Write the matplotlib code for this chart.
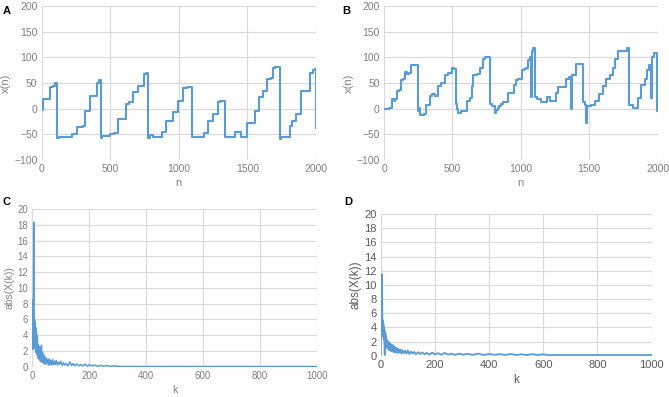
import matplotlib
matplotlib.use("Agg")
import matplotlib.pyplot as plt
import numpy as np

plt.rcParams["font.family"] = ["Liberation Sans", "DejaVu Sans"]

# Panel A: step levels x(n) starting at sample n
n_A = [0, 12, 58, 80, 100, 115, 125, 218, 255, 300, 315, 352, 400, 415, 430, 440,
       500, 530, 558, 614, 640, 667, 704, 745, 760, 777, 790, 810, 874, 910, 958,
       995, 1034, 1060, 1095, 1182, 1214, 1250, 1286, 1300, 1337, 1408, 1456, 1498,
       1553, 1583, 1614, 1643, 1670, 1687, 1700, 1736, 1745, 1808, 1825, 1857, 1893,
       1959, 1975, 1990, 2000]
x_A = [-2, 18, 42, 45, 50, -57, -55, -50, -35, -33, -5, 25, 50, 55, -57, -53,
       -50, -47, -20, 10, 12, 33, 45, 68, 70, -57, -52, -55, -45, -25, -7,
       15, 40, 42, -55, -47, -25, -10, 12, 14, -55, -45, -55, -27,
       -5, 22, 35, 57, 60, 80, 82, -60, -55, -33, -25, -10, 35,
       70, 75, 77, -37]

# Panel B
n_B = [0, 40, 57, 70, 80, 93, 110, 124, 140, 153, 170, 185, 197, 246, 255, 262,
       290, 304, 320, 336, 350, 372, 397, 420, 445, 470, 494, 510, 523, 532, 540,
       565, 604, 625, 640, 652, 680, 701, 725, 740, 774, 790, 810, 820, 830, 840,
       855, 870, 908, 950, 968, 981, 1006, 1020, 1035, 1050, 1065, 1078, 1083, 1091,
       1105, 1115, 1150, 1195, 1210, 1255, 1275, 1330, 1350, 1370, 1375, 1407, 1456,
       1470, 1480, 1485, 1510, 1545, 1570, 1600, 1625, 1650, 1672, 1690, 1712, 1773,
       1792, 1820, 1855, 1880, 1905, 1920, 1940, 1955, 1960, 1975, 1998, 2000]
x_B = [0, 2, 18, 15, 18, 35, 37, 55, 57, 72, 68, 70, 85, -5, 2, -12,
       -10, 7, 8, 25, 28, 25, 45, 50, 65, 70, 80, 78, 10, 0, -8,
       -5, 15, 20, 45, 65, 68, 80, 97, 100, 10, 5, -8, -3, 2, 6,
       10, 13, 30, 47, 55, 57, 75, 78, 80, 95, 100, 22, 112, 118,
       22, 18, 13, 22, 15, 30, 43, 58, 62, 0, 65, 87, 12,
       8, -27, 5, 8, 15, 28, 45, 58, 65, 80, 97, 112, 118,
       8, 2, 20, 47, 57, 75, 85, 20, 100, 108, -5, -5]

# Panel C: abs(X(k))
k_C = list(range(0, 21)) + list(range(22, 51, 2)) + [53, 56, 59, 62, 65, 68, 71, 74, 77, 80,
       84, 88, 92, 96, 100, 105, 110, 115, 120, 126, 132, 138, 144, 150, 157, 164, 171, 178,
       185, 193, 201, 210, 220, 230, 240, 250, 262, 275, 290, 310, 340, 400, 500, 600, 700,
       800, 900, 1000]
X_C = [8.5, 3.0, 6.5, 2.2, 8.0, 18.3, 4.5, 2.5, 6.0, 3.0, 5.5, 2.2, 5.0, 1.8, 4.6, 2.0, 4.0,
       1.5, 3.5, 1.2, 2.8,
       1.0, 2.6, 0.8, 2.4, 0.6, 2.7, 0.9, 1.8, 0.5, 1.5, 0.4, 1.2, 0.3, 1.1, 0.5,
       0.9, 0.2, 1.0, 0.3, 0.8, 0.2, 0.9, 0.3, 0.7, 0.25,
       0.8, 0.2, 0.6, 0.3, 0.7, 0.15, 0.5, 0.2, 0.4, 0.1, 0.6, 0.15, 0.4, 0.1,
       0.35, 0.1, 0.3, 0.08, 0.35, 0.06, 0.25, 0.1, 0.2, 0.05, 0.18, 0.06,
       0.15, 0.05, 0.1, 0.04, 0.03, 0.03, 0.03, 0.03, 0.03, 0.03, 0.03, 0.03]

# Panel D
k_D = list(range(0, 21)) + [22, 24, 26, 28, 30] + list(range(33, 61, 3)) + [64, 68, 72, 76,
       80, 85, 90, 95, 100, 106, 112, 118, 124, 130, 138, 146, 154, 162, 170, 180, 190, 200,
       212, 224, 236, 248, 260, 275, 290, 305, 320] + list(range(340, 601, 20)) + [615, 700,
       800, 900, 1000]
X_D = [0.0, 4.0, 3.2, 4.5, 3.0, 11.5, 6.0, 3.5, 5.0, 2.8, 4.5, 2.5, 4.0, 2.2, 3.6, 0.1, 3.2,
       2.0, 3.0, 1.6, 2.6,
       1.2, 2.2, 1.0, 2.0, 0.8,
       1.8, 0.7, 1.6, 0.6, 1.5, 0.5, 1.3, 0.5, 1.1, 0.4,
       1.0, 0.4, 0.9, 0.3, 0.8, 0.35, 0.7, 0.3, 0.75, 0.25, 0.6, 0.3, 0.55, 0.2,
       0.5, 0.25, 0.45, 0.2, 0.4, 0.15, 0.45, 0.2, 0.35, 0.15, 0.4, 0.15, 0.3,
       0.12, 0.3, 0.15, 0.28,
       0.12, 0.3, 0.1, 0.25, 0.12, 0.22, 0.1, 0.25, 0.1, 0.2, 0.1, 0.22, 0.1, 0.2,
       0.1, 0.1, 0.1, 0.1, 0.1]

blue = "#5B9BD5"
grid = "#D9D9D9"

fig = plt.figure(figsize=(6.69, 3.97), dpi=100)


def style(ax, xlim, xticks, ylim, yticks, xlabel, ylabel, fs=7.5, tc="#808080"):
    ax.set_xlim(xlim)
    ax.set_ylim(ylim)
    ax.set_xticks(xticks)
    ax.set_yticks(yticks)
    for s in ax.spines.values():
        s.set_visible(False)
    ax.grid(True, color=grid, lw=0.8)
    ax.set_axisbelow(True)
    ax.tick_params(length=0, labelsize=fs, colors=tc, pad=3)
    ax.set_xlabel(xlabel, fontsize=fs + 0.5, color=tc, labelpad=3)
    ax.set_ylabel(ylabel, fontsize=fs + 0.5, color=tc, labelpad=2)


axA = fig.add_axes([0.0623, 0.597, 0.410, 0.388])
axA.plot(n_A, x_A, drawstyle="steps-post", color=blue, lw=1.5)
style(axA, (0, 2000), np.arange(0, 2001, 500), (-100, 200), np.arange(-100, 201, 50), "n", "x(n)")

axB = fig.add_axes([0.574, 0.597, 0.409, 0.388])
axB.plot(n_B, x_B, drawstyle="steps-post", color=blue, lw=1.5)
style(axB, (0, 2000), np.arange(0, 2001, 500), (-100, 200), np.arange(-100, 201, 50), "n", "x(n)")

axC = fig.add_axes([0.0483, 0.0763, 0.4251, 0.3973])
axC.plot(k_C, X_C, color=blue, lw=1.1)
style(axC, (0, 1000), np.arange(0, 1001, 200), (0, 20), np.arange(0, 21, 2), "k", "abs(X(k))", fs=7)

axD = fig.add_axes([0.569, 0.104, 0.405, 0.357])
axD.plot(k_D, X_D, color=blue, lw=1.3)
style(axD, (0, 1000), np.arange(0, 1001, 200), (0, 20), np.arange(0, 21, 2), "k", "abs(X(k))",
      fs=8, tc="#595959")

for lab, x, y in [("A", 0.004, 0.985), ("B", 0.512, 0.985), ("C", 0.004, 0.503), ("D", 0.514, 0.503)]:
    fig.text(x, y, lab, fontsize=8, fontweight="bold", va="top", ha="left")

fig.savefig("out.png", dpi=100)
